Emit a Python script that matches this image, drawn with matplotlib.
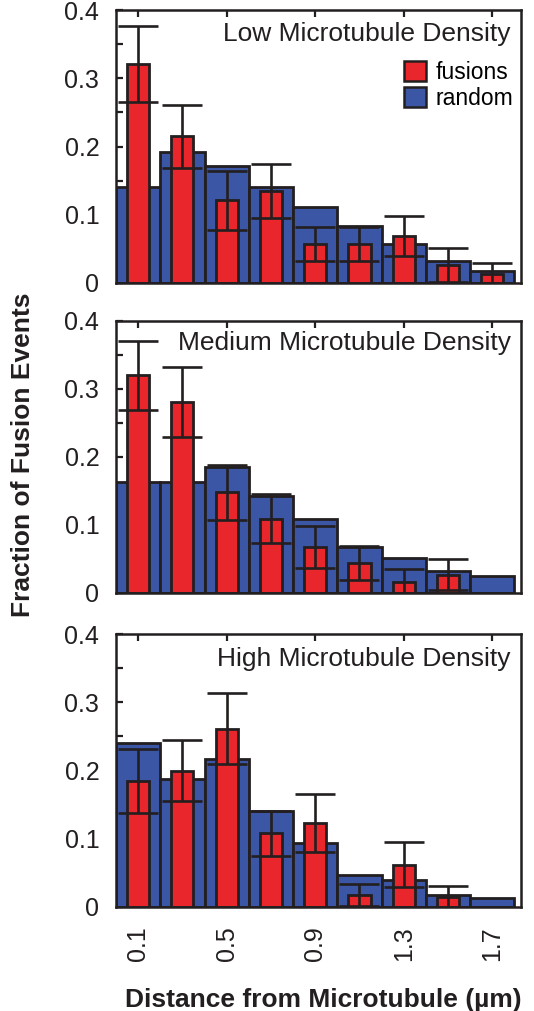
import numpy as np
import matplotlib.pyplot as plt
from matplotlib.patches import Patch

# ---------------------------------------------------------------
# data
# ---------------------------------------------------------------
bin_centers = [0.1, 0.3, 0.5, 0.7, 0.9, 1.1, 1.3, 1.5, 1.7]
tick_values = [0.1, 0.5, 0.9, 1.3, 1.7]
tick_labels = ["0.1", "0.5", "0.9", "1.3", "1.7"]

low_random = [0.140, 0.192, 0.172, 0.141, 0.112, 0.083, 0.057, 0.032, 0.018]
low_fusions = [0.321, 0.215, 0.121, 0.135, 0.057, 0.057, 0.069, 0.026, 0.013]
low_err = [0.056, 0.046, 0.043, 0.040, 0.025, 0.025, 0.029, 0.025, 0.017]

med_random = [0.163, 0.163, 0.186, 0.143, 0.109, 0.067, 0.051, 0.032, 0.025]
med_fusions = [0.320, 0.281, 0.148, 0.109, 0.068, 0.044, 0.0155, 0.027, 0.0]
med_err = [0.051, 0.052, 0.040, 0.036, 0.031, 0.0245, 0.020, 0.023, 0.0]

high_random = [0.241, 0.187, 0.217, 0.140, 0.0935, 0.047, 0.040, 0.018, 0.013]
high_fusions = [0.185, 0.200, 0.261, 0.108, 0.123, 0.017, 0.062, 0.0145, 0.0]
high_err = [0.047, 0.045, 0.052, 0.033, 0.042, 0.016, 0.033, 0.016, 0.0]

panel_titles = ["Low Microtubule Density", "Medium Microtubule Density",
                "High Microtubule Density"]

RED = "#e8262b"
BLUE = "#3b56a5"
EDGE = "#231f20"

plt.rcParams["font.family"] = ["Liberation Sans", "DejaVu Sans"]

W, H = 534, 1011
# axes boxes in pixels: (left, top, right, bottom)
BOXES = [(116, 10, 521, 283), (116, 321, 521, 593), (116, 634, 521, 907)]
TITLE_Y = [0.912, 0.919, 0.908]


def draw_panel(ax, random, fusions, err, title, title_y, show_x, legend=False):
    x = np.array(bin_centers)
    fus = np.array(fusions)
    e = np.array(err)
    ax.bar(x, random, width=0.2, color=BLUE, edgecolor=EDGE, linewidth=2.0, zorder=2)
    keep = fus > 0
    ax.bar(x[keep], fus[keep], width=0.1, color=RED, edgecolor=EDGE,
           linewidth=2.0, zorder=3)
    ax.errorbar(x[keep], fus[keep], yerr=e[keep], fmt="none", ecolor=EDGE,
                elinewidth=1.9, capsize=14.5, capthick=1.9, zorder=4)

    ax.set_xlim(0, 1.83)
    ax.set_ylim(0, 0.4)
    ax.set_yticks([0, 0.1, 0.2, 0.3, 0.4])
    ax.set_yticklabels(["0", "0.1", "0.2", "0.3", "0.4"])
    ax.set_yticks(np.arange(0.05, 0.4, 0.1), minor=True)
    ax.set_xticks(tick_values)
    ax.tick_params(axis="y", which="both", direction="in", length=5, width=1.6,
                   labelsize=18, pad=12, colors=EDGE)
    ax.tick_params(axis="x", direction="in", length=5, width=1.6, top=True,
                   labelsize=18, pad=14, colors=EDGE)
    if show_x:
        ax.set_xticklabels(tick_labels, rotation=90)
    else:
        ax.set_xticklabels([])
    for s in ax.spines.values():
        s.set_linewidth(1.8)
        s.set_color(EDGE)
        s.set_zorder(5)

    ax.text(0.975, title_y, title, transform=ax.transAxes, ha="right",
            va="center", fontsize=19, color=EDGE)

    if legend:
        handles = [Patch(facecolor=RED, edgecolor=EDGE, linewidth=1.8),
                   Patch(facecolor=BLUE, edgecolor=EDGE, linewidth=1.8)]
        ax.legend(handles, ["fusions", "random"], loc="upper right",
                  bbox_to_anchor=(0.982, 0.815), frameon=False, fontsize=16.5,
                  handlelength=0.95, handleheight=0.95, handletextpad=0.45,
                  labelspacing=0.15, borderaxespad=0, borderpad=0)


def main():
    fig = plt.figure(figsize=(W / 100, H / 100), dpi=100)
    series = [(low_random, low_fusions, low_err),
              (med_random, med_fusions, med_err),
              (high_random, high_fusions, high_err)]
    for i, (l, t, r, b) in enumerate(BOXES):
        ax = fig.add_axes([l / W, (H - b) / H, (r - l) / W, (b - t) / H])
        rnd, fus, err = series[i]
        draw_panel(ax, rnd, fus, err, panel_titles[i], TITLE_Y[i],
                   show_x=(i == 2), legend=(i == 0))

    fig.text(323 / W, (H - 1000) / H, "Distance from Microtubule (\u00b5m)",
             ha="center", va="center", fontsize=19, fontweight="bold", color=EDGE)
    fig.text(23 / W, (H - 455) / H, "Fraction of Fusion Events", rotation=90,
             ha="center", va="center", fontsize=19, fontweight="bold", color=EDGE)

    fig.savefig("out.png", dpi=100)


if __name__ == "__main__":
    main()
